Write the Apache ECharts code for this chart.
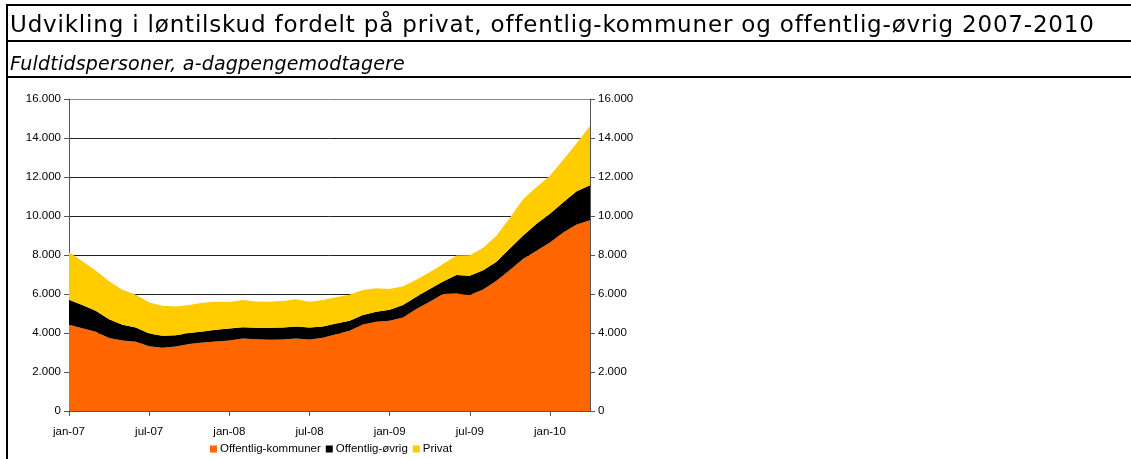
<!DOCTYPE html>
<html>
<head>
<meta charset="utf-8">
<script src="https://cdn.jsdelivr.net/npm/echarts@6/dist/echarts.min.js"></script>
<style>
html,body{margin:0;padding:0;background:#fff;}
#wrap{position:relative;width:1131px;height:459px;}
#c{position:absolute;left:0;top:0;width:1131px;height:459px;}
.t{position:absolute;left:10px;white-space:nowrap;color:#000;font-family:'DejaVu Sans',sans-serif;}
#title{top:13px;font-size:23px;line-height:23px;letter-spacing:0.82px;}
#subtitle{top:53.5px;font-size:19px;line-height:19px;font-style:italic;letter-spacing:0.2px;}
</style>
</head>
<body>
<div id="wrap">
<div id="c"></div>
<div class="t" id="title"></div>
<div class="t" id="subtitle"></div>
</div>
<script>
const months = ["jan-07","feb-07","mar-07","apr-07","maj-07","jun-07","jul-07","aug-07","sep-07","okt-07","nov-07","dec-07",
"jan-08","feb-08","mar-08","apr-08","maj-08","jun-08","jul-08","aug-08","sep-08","okt-08","nov-08","dec-08",
"jan-09","feb-09","mar-09","apr-09","maj-09","jun-09","jul-09","aug-09","sep-09","okt-09","nov-09","dec-09",
"jan-10","feb-10","mar-10","apr-10"];
const kommuner = [4420,4250,4060,3750,3615,3550,3325,3240,3310,3430,3515,3565,
3615,3720,3685,3650,3670,3720,3670,3755,3940,4115,4440,4575,
4630,4800,5230,5605,6000,6025,5955,6225,6675,7235,7805,8215,
8640,9155,9565,9785];
const ovrig = [1290,1180,1080,960,805,735,650,615,580,565,565,600,
620,580,585,620,615,615,615,580,550,515,480,515,
565,630,630,650,635,950,980,995,985,1095,1195,1385,
1470,1550,1705,1790];
const privat = [2430,2250,2060,1940,1800,1680,1595,1545,1475,1435,1470,1435,
1355,1390,1350,1330,1355,1390,1315,1355,1340,1335,1285,1200,
1060,965,875,855,905,995,1055,1150,1325,1575,1875,1890,
1960,2180,2465,3045];
const seriesNames = ["Offentlig-kommuner","Offentlig-øvrig","Privat"];
const titleText = "Udvikling i løntilskud fordelt på privat, offentlig-kommuner og offentlig-øvrig 2007-2010";
const subtitleText = "Fuldtidspersoner, a-dagpengemodtagere";

document.getElementById('title').textContent = titleText;
document.getElementById('subtitle').textContent = subtitleText;

const fmt = v => v === 0 ? "0" : String(v).replace(/\B(?=(\d{3})+(?!\d))/g, ".");
const chart = echarts.init(document.getElementById('c'), null, {renderer:'canvas'});
const axisFont = {fontFamily:'Liberation Sans', fontSize:11.5, color:'#000'};
const yAxisBase = {
  type:'value', min:0, max:16000, interval:2000,
  axisLine:{show:true, lineStyle:{color:'#555', width:1}},
  axisTick:{show:true, length:5, lineStyle:{color:'#555'}},
  axisLabel:Object.assign({formatter:fmt, margin:8}, axisFont)
};
const mk = (name, data, color) => ({
  name, type:'line', stack:'t', data, symbol:'none', showSymbol:false,
  lineStyle:{width:0}, areaStyle:{color, opacity:1}, itemStyle:{color}, silent:true, animation:false
});
chart.setOption({
  animation:false,
  graphic:[
    {type:'line', shape:{x1:6, y1:5, x2:1131, y2:5}, style:{stroke:'#000', lineWidth:2}},
    {type:'line', shape:{x1:6, y1:41, x2:1131, y2:41}, style:{stroke:'#000', lineWidth:2}},
    {type:'line', shape:{x1:6, y1:77, x2:1131, y2:77}, style:{stroke:'#000', lineWidth:2}},
    {type:'line', shape:{x1:7, y1:4, x2:7, y2:459}, style:{stroke:'#000', lineWidth:2}}
  ],
  grid:{left:69, right:541, top:99, bottom:48, containLabel:false},
  legend:{data:seriesNames, left:205, top:438, icon:'rect', itemWidth:7, itemHeight:7, itemGap:5,
    textStyle:{fontFamily:'Liberation Sans', fontSize:11.5, color:'#000', padding:[0,0,0,-2]}},
  xAxis:{type:'category', data:months, boundaryGap:false,
    axisLine:{lineStyle:{color:'#555'}},
    axisTick:{interval:5, length:5, lineStyle:{color:'#555'}},
    axisLabel:Object.assign({interval:5, margin:15}, axisFont),
    splitLine:{show:false}},
  yAxis:[
    Object.assign({position:'left', splitLine:{show:true, lineStyle:{color:['#222','#222','#222','#222','#222','#222','#222','#222','#888'], width:1}}}, yAxisBase),
    Object.assign({position:'right', splitLine:{show:false}}, yAxisBase)
  ],
  series:[
    mk(seriesNames[0], kommuner, '#FF6600'),
    mk(seriesNames[1], ovrig, '#000000'),
    mk(seriesNames[2], privat, '#FFCC00')
  ]
});
</script>
</body>
</html>
